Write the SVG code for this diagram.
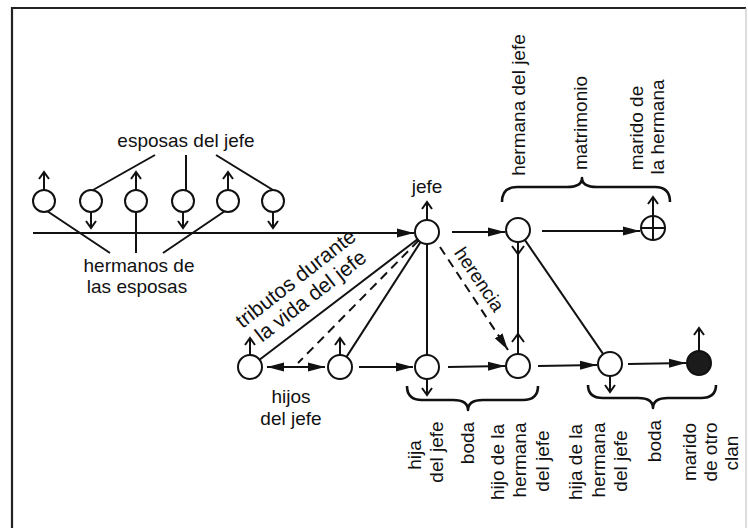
<svg xmlns="http://www.w3.org/2000/svg" width="748" height="528" viewBox="0 0 748 528">
<style>
text{font-family:"Liberation Sans",Arial,sans-serif;font-size:19px;fill:#111}
.s{fill:none;stroke:#111;stroke-width:2}
.c{fill:#fff;stroke:#111;stroke-width:2}
.d{fill:none;stroke:#111;stroke-width:2;stroke-dasharray:9 6}
.br{fill:none;stroke:#111;stroke-width:2.6;stroke-linejoin:round}
.m{text-anchor:middle}
</style>
<defs>
<marker id="ah" markerUnits="userSpaceOnUse" markerWidth="18" markerHeight="10" refX="17" refY="5" orient="auto-start-reverse"><path d="M0,0.5 L17,5 L0,9.5 z" fill="#111"/></marker>
</defs>
<rect width="748" height="528" fill="#fff"/>
<g id="frame">
<path d="M12,528 V8 H746" fill="none" stroke="#222" stroke-width="2.2"/>
<line x1="746" y1="8" x2="746" y2="528" stroke="#bbb" stroke-width="1"/>
</g>
<g id="connectors">
<line class="s" x1="33" y1="233" x2="414" y2="233" marker-end="url(#ah)"/>
<line class="s" x1="155" y1="155" x2="93" y2="190"/>
<line class="s" x1="186" y1="155" x2="186" y2="190"/>
<line class="s" x1="216" y1="155" x2="273" y2="190"/>
<line class="s" x1="47" y1="211" x2="110" y2="253"/>
<line class="s" x1="136" y1="212" x2="136" y2="253"/>
<line class="s" x1="225" y1="211" x2="163" y2="253"/>
<line class="s" x1="452" y1="232" x2="505" y2="232" marker-end="url(#ah)"/>
<line class="s" x1="542" y1="231" x2="640" y2="231" marker-end="url(#ah)"/>
<line class="s" x1="417.5" y1="239.3" x2="259.5" y2="359.7"/>
<line class="d" x1="418.6" y1="240.5" x2="298" y2="363"/>
<line class="s" x1="420.5" y1="242.1" x2="346.5" y2="356.9"/>
<line class="s" x1="427" y1="244" x2="427" y2="355"/>
<line class="d" x1="440" y1="247" x2="508" y2="350" marker-end="url(#ah)"/>
<line class="s" x1="518" y1="242" x2="518" y2="354"/>
<polyline class="s" points="512,246 518,254 524,246"/>
<polyline class="s" points="512,342 518,334 524,342"/>
<line class="s" x1="524.8" y1="239.9" x2="603.2" y2="354.1"/>
<line class="s" x1="267" y1="367" x2="325" y2="367" marker-start="url(#ah)" marker-end="url(#ah)"/>
<line class="s" x1="359" y1="367" x2="413" y2="367" marker-end="url(#ah)"/>
<line class="s" x1="448" y1="367" x2="505" y2="366" marker-end="url(#ah)"/>
<line class="s" x1="538" y1="366" x2="597" y2="365" marker-end="url(#ah)"/>
<line class="s" x1="628" y1="364" x2="686" y2="363" marker-end="url(#ah)"/>
</g>
<g id="esposas-label"><text class="m" x="186" y="147">esposas del jefe</text></g>
<g id="hermanos-label"><text class="m" x="139" y="272">hermanos de</text><text class="m" x="137" y="293">las esposas</text></g>
<g id="h1"><circle class="c" cx="44" cy="201" r="11"/><path class="s" d="M44,190 V172 M39,179 L44,172 L49,179"/></g>
<g id="e1"><circle class="c" cx="91" cy="201" r="11"/><path class="s" d="M91,212 V228 M86,221 L91,228 L96,221"/></g>
<g id="h2"><circle class="c" cx="136" cy="201" r="11"/><path class="s" d="M136,190 V172 M131,179 L136,172 L141,179"/></g>
<g id="e2"><circle class="c" cx="183" cy="201" r="11"/><path class="s" d="M183,212 V228 M178,221 L183,228 L188,221"/></g>
<g id="h3"><circle class="c" cx="228" cy="201" r="11"/><path class="s" d="M228,190 V172 M223,179 L228,172 L233,179"/></g>
<g id="e3"><circle class="c" cx="273" cy="201" r="11"/><path class="s" d="M273,212 V228 M268,221 L273,228 L278,221"/></g>
<g id="jefe"><circle class="c" cx="427" cy="232" r="12"/><path class="s" d="M427,220 V202 M422,209 L427,202 L432,209"/><text class="m" x="427" y="193">jefe</text></g>
<g id="hermana"><circle class="c" cx="518" cy="230" r="12"/></g>
<g id="marido-hermana"><circle class="c" cx="653" cy="228" r="12"/><path class="s" d="M641,228 H665 M653,216 V240 M653,216 V197 M648,204 L653,197 L658,204"/></g>
<g id="top-labels">
<path class="br" d="M502,202 Q502,187 517,187 L567,187 Q582,187 582,178 Q582,187 597,187 L655,187 Q670,187 670,202"/>
<text class="m" transform="translate(525,105) rotate(-90)">hermana del jefe</text>
<text class="m" transform="translate(587,123) rotate(-90)">matrimonio</text>
<text class="m" transform="translate(643,128) rotate(-90)">marido de</text>
<text class="m" transform="translate(664,127) rotate(-90)">la hermana</text>
</g>
<g id="hijo1"><circle class="c" cx="250" cy="367" r="12"/><path class="s" d="M250,355 V338 M245,345 L250,338 L255,345"/></g>
<g id="hijo2"><circle class="c" cx="340" cy="367" r="12"/><path class="s" d="M340,355 V338 M335,345 L340,338 L345,345"/></g>
<g id="hijos-label"><text class="m" x="291" y="403">hijos</text><text class="m" x="291" y="425">del jefe</text></g>
<g id="tributos-label">
<text class="m" style="font-size:21px" transform="translate(300,284) rotate(-38)">tributos durante</text>
<text class="m" style="font-size:21px" transform="translate(315,301.5) rotate(-38)">la vida del jefe</text>
</g>
<g id="herencia-label"><text class="m" transform="translate(474,283) rotate(56)">herencia</text></g>
<g id="hija-jefe"><circle class="c" cx="427" cy="367" r="12"/><path class="s" d="M427,379 V395 M422,388 L427,395 L432,388"/></g>
<g id="hijo-hermana"><circle class="c" cx="518" cy="366" r="12"/></g>
<g id="hija-hermana"><circle class="c" cx="610" cy="364" r="12"/><path class="s" d="M610,376 V392 M605,385 L610,392 L615,385"/></g>
<g id="marido-otro-clan"><circle cx="699" cy="363" r="12" fill="#1b1b1b" stroke="#111" stroke-width="2"/><path class="s" d="M699,351 V328 M694,335 L699,328 L704,335"/></g>
<g id="bottom-labels">
<path class="br" d="M407,386 Q407,400 422,400 L453,400 Q468,400 468,410 Q468,400 483,400 L523,400 Q538,400 538,386"/>
<path class="br" d="M588,385 Q588,398 603,398 L638,398 Q653,398 653,408 Q653,398 668,398 L701,398 Q716,398 716,385"/>
<text class="m" transform="translate(421,455) rotate(-90)">hija</text>
<text class="m" transform="translate(443,452) rotate(-90)">del jefe</text>
<text class="m" transform="translate(474,443) rotate(-90)">boda</text>
<text class="m" transform="translate(504,462) rotate(-90)">hijo de la</text>
<text class="m" transform="translate(526,460) rotate(-90)">hermana</text>
<text class="m" transform="translate(549,461) rotate(-90)">del jefe</text>
<text class="m" transform="translate(582,462) rotate(-90)">hija de la</text>
<text class="m" transform="translate(605,460) rotate(-90)">hermana</text>
<text class="m" transform="translate(627,461) rotate(-90)">del jefe</text>
<text class="m" transform="translate(661,441) rotate(-90)">boda</text>
<text class="m" transform="translate(696,452) rotate(-90)">marido</text>
<text class="m" transform="translate(717,452) rotate(-90)">de otro</text>
<text class="m" transform="translate(738,453) rotate(-90)">clan</text>
</g>
</svg>
